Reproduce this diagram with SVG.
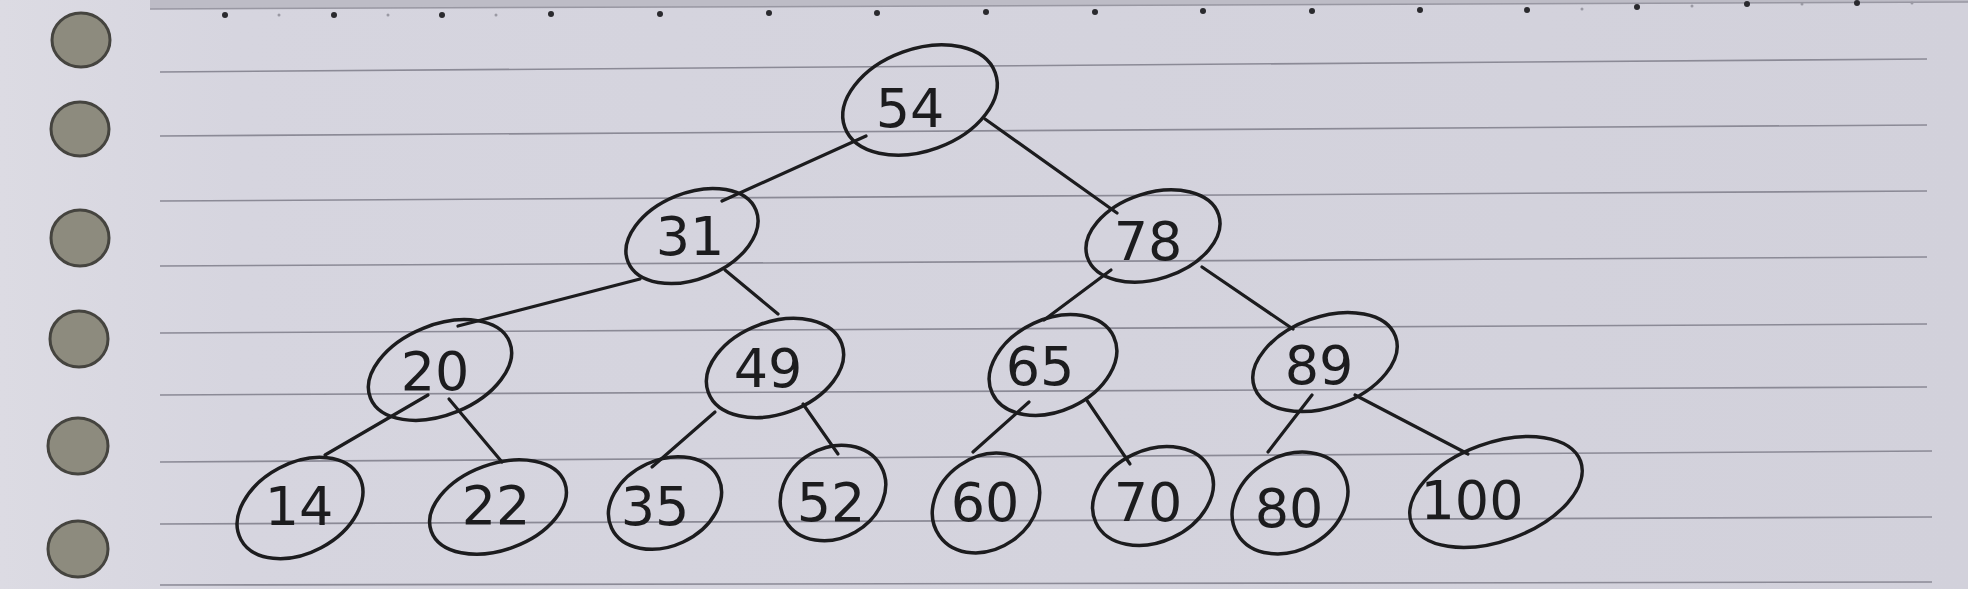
<svg xmlns="http://www.w3.org/2000/svg" width="1968" height="589" viewBox="0 0 1968 589">
<defs>
<linearGradient id="paperGrad" x1="0" y1="0" x2="1" y2="0">
<stop offset="0" stop-color="#dcdbe3"/>
<stop offset="0.12" stop-color="#d6d5df"/>
<stop offset="1" stop-color="#d2d1db"/>
</linearGradient>
</defs>
<style>
.rule{stroke:#8b8a96;stroke-width:1.6;fill:none}
.hole{fill:#8d8b7e;stroke:#45443f;stroke-width:3}
.dot{fill:#2a2a2e}
.sdot{fill:#9a99a3}
.node ellipse{fill:none;stroke:#1c1c1e;stroke-width:3.5}
.node text{font-family:"DejaVu Sans",sans-serif;font-size:54px;fill:#1c1c1e;text-anchor:middle;dominant-baseline:central}
#edges line{stroke:#1c1c1e;stroke-width:3.2;stroke-linecap:round}
</style>
<rect x="0" y="0" width="1968" height="589" fill="url(#paperGrad)"/>
<path d="M150 0 L1968 0 L1968 2 L150 9 Z" fill="#bdbcc6"/>
<line x1="150" y1="9" x2="1968" y2="2" stroke="#9897a2" stroke-width="1.5"/>
<g id="top-dots">
<circle class="dot" cx="225" cy="15" r="3"/><circle class="dot" cx="334" cy="15" r="3"/><circle class="dot" cx="442" cy="15" r="3"/><circle class="dot" cx="551" cy="14" r="3"/><circle class="dot" cx="660" cy="14" r="3"/><circle class="dot" cx="769" cy="13" r="3"/><circle class="dot" cx="877" cy="13" r="3"/><circle class="dot" cx="986" cy="12" r="3"/><circle class="dot" cx="1095" cy="12" r="3"/><circle class="dot" cx="1203" cy="11" r="3"/><circle class="dot" cx="1312" cy="11" r="3"/><circle class="dot" cx="1420" cy="10" r="3"/><circle class="dot" cx="1527" cy="10" r="3"/><circle class="dot" cx="1637" cy="7" r="3"/><circle class="dot" cx="1747" cy="4" r="3"/><circle class="dot" cx="1857" cy="3" r="3"/>
<circle class="sdot" cx="279" cy="15" r="1.5"/><circle class="sdot" cx="388" cy="15" r="1.5"/><circle class="sdot" cx="496" cy="15" r="1.5"/><circle class="sdot" cx="1582" cy="9" r="1.5"/><circle class="sdot" cx="1692" cy="6" r="1.5"/><circle class="sdot" cx="1802" cy="4" r="1.5"/><circle class="sdot" cx="1912" cy="3" r="1.5"/>
</g>
<g id="rules">
<line class="rule" x1="160" y1="72" x2="1927" y2="59"/>
<line class="rule" x1="160" y1="136" x2="1927" y2="125"/>
<line class="rule" x1="160" y1="201" x2="1927" y2="191"/>
<line class="rule" x1="160" y1="266" x2="1927" y2="257"/>
<line class="rule" x1="160" y1="333" x2="1927" y2="324"/>
<line class="rule" x1="160" y1="395" x2="1927" y2="387"/>
<line class="rule" x1="160" y1="462" x2="1932" y2="451"/>
<line class="rule" x1="160" y1="524" x2="1932" y2="517"/>
<line class="rule" x1="160" y1="585" x2="1932" y2="582"/>
</g>
<g id="holes">
<ellipse class="hole" cx="81" cy="40" rx="29" ry="27"/>
<ellipse class="hole" cx="80" cy="129" rx="29" ry="27"/>
<ellipse class="hole" cx="80" cy="238" rx="29" ry="28"/>
<ellipse class="hole" cx="79" cy="339" rx="29" ry="28"/>
<ellipse class="hole" cx="78" cy="446" rx="30" ry="28"/>
<ellipse class="hole" cx="78" cy="549" rx="30" ry="28"/>
</g>
<g id="edges">
<line x1="866" y1="136" x2="722" y2="201"/>
<line x1="985" y1="119" x2="1117" y2="213"/>
<line x1="640" y1="279" x2="458" y2="326"/>
<line x1="725" y1="270" x2="778" y2="314"/>
<line x1="1111" y1="270" x2="1044" y2="320"/>
<line x1="1202" y1="267" x2="1293" y2="329"/>
<line x1="428" y1="395" x2="325" y2="455"/>
<line x1="449" y1="399" x2="502" y2="462"/>
<line x1="715" y1="412" x2="652" y2="467"/>
<line x1="803" y1="404" x2="838" y2="454"/>
<line x1="1029" y1="402" x2="973" y2="452"/>
<line x1="1086" y1="399" x2="1130" y2="464"/>
<line x1="1312" y1="395" x2="1268" y2="452"/>
<line x1="1355" y1="395" x2="1468" y2="454"/>
</g>
<g id="n54" class="node"><ellipse cx="920" cy="100" rx="80" ry="51" transform="rotate(-20 920 100)"/><text x="910" y="108">54</text></g>
<g id="n31" class="node"><ellipse cx="692" cy="236" rx="69" ry="43" transform="rotate(-22 692 236)"/><text x="690" y="236">31</text></g>
<g id="n78" class="node"><ellipse cx="1153" cy="236" rx="69" ry="43" transform="rotate(-18 1153 236)"/><text x="1148" y="241">78</text></g>
<g id="n20" class="node"><ellipse cx="440" cy="370" rx="75" ry="45" transform="rotate(-22 440 370)"/><text x="435" y="371">20</text></g>
<g id="n49" class="node"><ellipse cx="775" cy="368" rx="71" ry="46" transform="rotate(-20 775 368)"/><text x="768" y="368">49</text></g>
<g id="n65" class="node"><ellipse cx="1053" cy="365" rx="67" ry="46" transform="rotate(-25 1053 365)"/><text x="1040" y="366">65</text></g>
<g id="n89" class="node"><ellipse cx="1325" cy="362" rx="75" ry="45" transform="rotate(-20 1325 362)"/><text x="1319" y="365">89</text></g>
<g id="n14" class="node"><ellipse cx="300" cy="508" rx="67" ry="45" transform="rotate(-28 300 508)"/><text x="299" y="506">14</text></g>
<g id="n22" class="node"><ellipse cx="498" cy="507" rx="71" ry="43" transform="rotate(-20 498 507)"/><text x="496" y="505">22</text></g>
<g id="n35" class="node"><ellipse cx="665" cy="503" rx="59" ry="43" transform="rotate(-25 665 503)"/><text x="655" y="506">35</text></g>
<g id="n52" class="node"><ellipse cx="833" cy="493" rx="55" ry="45" transform="rotate(-30 833 493)"/><text x="831" y="502">52</text></g>
<g id="n60" class="node"><ellipse cx="986" cy="503" rx="57" ry="46" transform="rotate(-35 986 503)"/><text x="985" y="502">60</text></g>
<g id="n70" class="node"><ellipse cx="1153" cy="496" rx="63" ry="46" transform="rotate(-25 1153 496)"/><text x="1148" y="502">70</text></g>
<g id="n80" class="node"><ellipse cx="1290" cy="503" rx="61" ry="47" transform="rotate(-30 1290 503)"/><text x="1289" y="508">80</text></g>
<g id="n100" class="node"><ellipse cx="1496" cy="492" rx="90" ry="49" transform="rotate(-20 1496 492)"/><text x="1472" y="500">100</text></g>
</svg>
